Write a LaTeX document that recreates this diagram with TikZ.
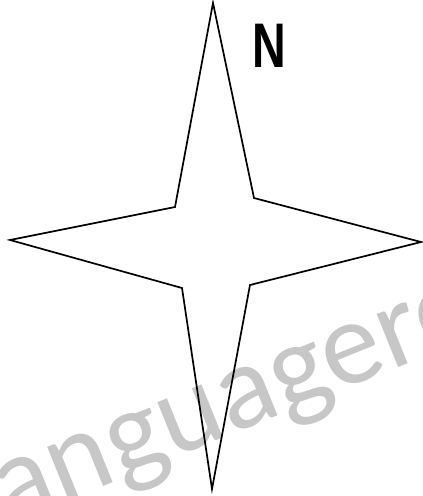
\documentclass[tikz,border=0pt]{standalone}
\usepackage{fontspec}
\setmainfont{Liberation Sans}
\newfontfamily\wmfont{Carlito}
\begin{document}
\begin{tikzpicture}[x=1pt,y=-1pt,
  starline/.style={draw=black,line width=1.7pt,line join=miter},
  wmark/.style={text=black!22,font=\wmfont\fontsize{120}{120}\selectfont,inner sep=0pt,anchor=base west,rotate=22},
  label/.style={font=\bfseries\fontsize{63}{63}\selectfont,inner sep=0pt,xscale=0.74}]
\useasboundingbox (0,0) rectangle (423,496);
\clip (0,0) rectangle (423,496);
\node[wmark] (wm) at (-17,535) {languagere};
\coordinate (tN) at (213,3);
\coordinate (iNE) at (254,198);
\coordinate (tE) at (421,242);
\coordinate (iSE) at (250,285);
\coordinate (tS) at (212,489);
\coordinate (iSW) at (182,288);
\coordinate (tW) at (10,240);
\coordinate (iNW) at (175,207);
\draw[starline] (tN) -- (iNE) -- (tE) -- (iSE) -- (tS) -- (iSW) -- (tW) -- (iNW) -- cycle;
\node[label] (n) at (269,46) {N};
\end{tikzpicture}
\end{document}
